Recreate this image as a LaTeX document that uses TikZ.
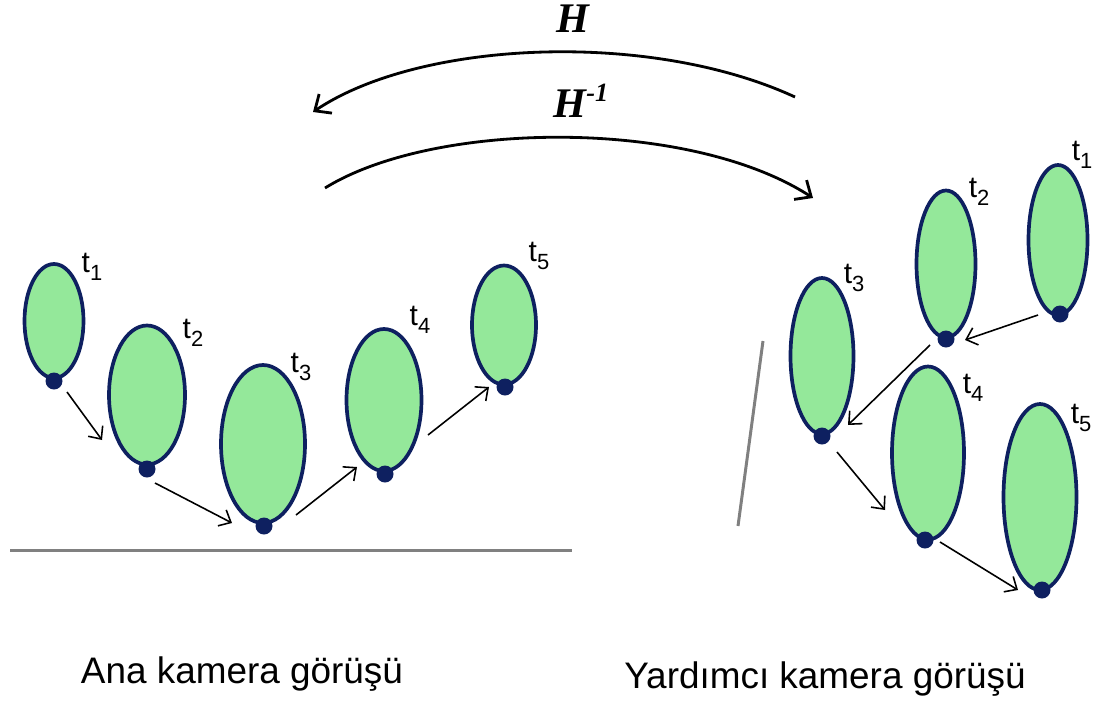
\documentclass[tikz,border=0pt]{standalone}
\usepackage{fontspec}
\setmainfont{Liberation Sans}
\newfontfamily\timesfont{Liberation Serif}
\usetikzlibrary{shapes.geometric,arrows.meta}
\definecolor{blobgreen}{RGB}{148,232,154}
\definecolor{blobnavy}{RGB}{14,32,96}
\definecolor{floorgray}{RGB}{128,128,128}
\newcommand{\tlab}[1]{t\raisebox{-4.5pt}{\fontsize{12.5}{12.5}\selectfont #1}}

\begin{document}
\begin{tikzpicture}[x=0.2mm, y=-0.2mm,
        blob/.style={ellipse, draw=blobnavy, fill=blobgreen, line width=2.1pt, inner sep=0pt},
        foot/.style={circle, fill=blobnavy, inner sep=0pt, minimum size=3.4mm},
        tag/.style={font=\fontsize{17}{20}\selectfont, inner sep=0pt},
        move/.style={-{Straight Barb[length=2mm,width=3.6mm]}, line width=0.9pt},
        hom/.style={-{Straight Barb[length=2.6mm,width=4.6mm]}, line width=1.6pt},
        floor/.style={draw=floorgray, line width=1.7pt},
        view/.style={font=\fontsize{21}{25}\selectfont, anchor=base, inner sep=0pt}]
    \useasboundingbox (0,0) rectangle (1101,708);
    %% ana kamera
    \draw[floor] (10,550) -- (572,550);
    \node[blob, minimum width=11.8mm, minimum height=22.8mm] (a1) at (54,321) {};
    \node[blob, minimum width=15.2mm, minimum height=27.8mm] (a2) at (147,395) {};
    \node[blob, minimum width=16.8mm, minimum height=31.6mm] (a3) at (263,444) {};
    \node[blob, minimum width=15mm, minimum height=28.4mm] (a4) at (384,400) {};
    \node[blob, minimum width=12.8mm, minimum height=23.8mm] (a5) at (504,325) {};
    \node[foot] (da1) at (54,381) {};
    \node[foot] (da2) at (147,469) {};
    \node[foot] (da3) at (264,526) {};
    \node[foot] (da4) at (385,474) {};
    \node[foot] (da5) at (505,387) {};
    \node[tag] (ta1) at (92,267) {\tlab{1}};
    \node[tag] (ta2) at (193,333) {\tlab{2}};
    \node[tag] (ta3) at (301,367) {\tlab{3}};
    \node[tag] (ta4) at (420,320) {\tlab{4}};
    \node[tag] (ta5) at (539,256) {\tlab{5}};
    \coordinate (m1a) at (67,392);  \coordinate (m1b) at (102,440);
    \coordinate (m2a) at (155,483); \coordinate (m2b) at (232,523);
    \coordinate (m3a) at (296,515); \coordinate (m3b) at (357,467);
    \coordinate (m4a) at (428,435); \coordinate (m4b) at (489,387);
    \draw[move] (m1a) -- (m1b);
    \draw[move] (m2a) -- (m2b);
    \draw[move] (m3a) -- (m3b);
    \draw[move] (m4a) -- (m4b);
    %% yardimci kamera
    \draw[floor] (763,341) -- (738,526);
    \node[blob, minimum width=11.8mm, minimum height=30mm] (y1) at (1058,240) {};
    \node[blob, minimum width=11.8mm, minimum height=29.4mm] (y2) at (946,264) {};
    \node[blob, minimum width=12.6mm, minimum height=31.2mm] (y3) at (822,356) {};
    \node[blob, minimum width=14.4mm, minimum height=34.6mm] (y4) at (928,453) {};
    \node[blob, minimum width=14.6mm, minimum height=37.2mm] (y5) at (1040,497) {};
    \node[foot] (dy1) at (1060,314) {};
    \node[foot] (dy2) at (946,339) {};
    \node[foot] (dy3) at (822,436) {};
    \node[foot] (dy4) at (925,540) {};
    \node[foot] (dy5) at (1042,590) {};
    \node[tag] (ty1) at (1082,155) {\tlab{1}};
    \node[tag] (ty2) at (979,192) {\tlab{2}};
    \node[tag] (ty3) at (854,278) {\tlab{3}};
    \node[tag] (ty4) at (973,388) {\tlab{4}};
    \node[tag] (ty5) at (1081,418) {\tlab{5}};
    \coordinate (n1a) at (1038,315); \coordinate (n1b) at (965,340);
    \coordinate (n2a) at (930,345);  \coordinate (n2b) at (848,425);
    \coordinate (n3a) at (837,452);  \coordinate (n3b) at (885,510);
    \coordinate (n4a) at (940,542);  \coordinate (n4b) at (1018,590);
    \draw[move] (n1a) -- (n1b);
    \draw[move] (n2a) -- (n2b);
    \draw[move] (n3a) -- (n3b);
    \draw[move] (n4a) -- (n4b);
    %% H ve H^-1
    \coordinate (hR) at (795,97);  \coordinate (hL) at (313,112);
    \coordinate (iL) at (325,188); \coordinate (iR) at (813,198);
    \draw[hom] (hR) .. controls (650,30) and (420,40) .. (hL);
    \draw[hom] (iL) .. controls (435,120) and (690,118) .. (iR);
    \node[anchor=base, inner sep=0pt, font=\fontsize{24}{28}\selectfont\timesfont\bfseries\itshape]
        (hf) at (573,32) {H};
    \node[anchor=base, inner sep=0pt, font=\fontsize{24}{28}\selectfont\timesfont\bfseries\itshape]
        (hi) at (581,117) {H\raisebox{9pt}{\fontsize{15}{15}\selectfont -1}};
    %% alt yazilar
    \node[view] (ana) at (242,683) {Ana kamera görüşü};
    \node[view] (yard) at (825,688) {Yardımcı kamera görüşü};
\end{tikzpicture}
\end{document}
